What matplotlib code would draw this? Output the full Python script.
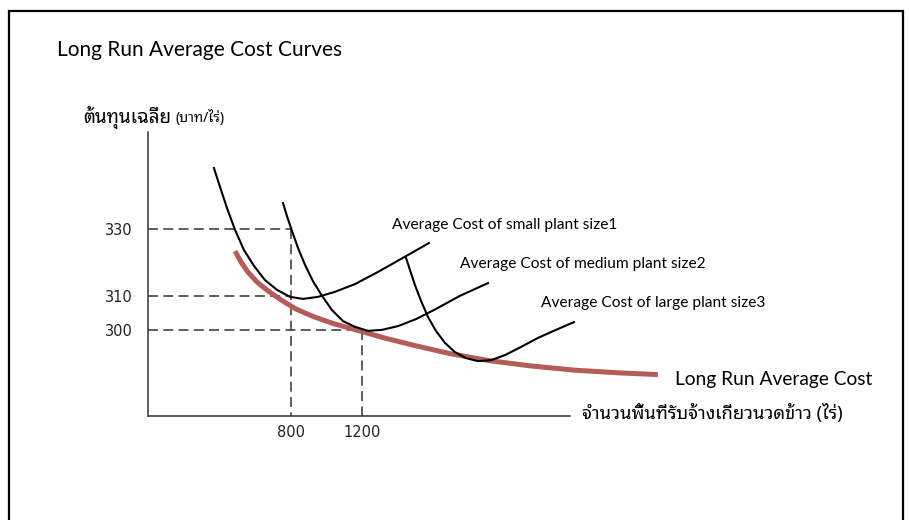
import matplotlib.pyplot as plt
from matplotlib import font_manager
from matplotlib.ft2font import FT2Font
from matplotlib.patches import Rectangle

# ---- data (x = area in rai, y = cost in baht/rai) ----
sac1_x = [371, 405, 444, 489, 539, 595, 656, 723, 796, 869, 952, 1047, 1159, 1287, 1427, 1572]
sac1_y = [348.1, 342.5, 336.2, 329.7, 323.7, 319.0, 314.8, 311.9, 309.8, 309.2, 309.8, 311.3,
          313.6, 317.2, 321.4, 325.8]

sac2_x = [757, 779, 807, 841, 880, 924, 975, 1030, 1092, 1159, 1232, 1310, 1399, 1500, 1611,
          1745, 1902]
sac2_y = [337.7, 333.8, 329.4, 324.3, 319.3, 314.5, 310.1, 305.9, 302.6, 300.9, 299.7, 300.0,
          301.1, 303.2, 306.2, 310.1, 313.9]

sac3_x = [1444, 1466, 1494, 1528, 1567, 1611, 1662, 1717, 1779, 1846, 1919, 1997, 2086, 2181,
          2282, 2382]
sac3_y = [321.4, 317.8, 313.3, 308.6, 303.8, 299.7, 296.1, 293.4, 291.6, 290.7, 291.0, 292.5,
          294.9, 297.6, 300.0, 302.3]

lrac_x = [489, 522, 561, 612, 673, 746, 829, 924, 1036, 1165, 1315, 1488, 1684, 1902, 2136,
          2388, 2639, 2851]
lrac_y = [323.4, 320.2, 317.2, 314.2, 311.6, 308.9, 306.2, 304.0, 301.9, 300.0, 297.7, 295.4,
          293.0, 290.9, 289.3, 288.0, 287.2, 286.7]

cost_ticks = [330, 310, 300]
cost_at = [800, 800, 1200]     # x where each dashed guide stops
area_ticks = [800, 1200]
area_cost = [330, 300]         # y where each vertical guide starts

labels = ['Average Cost of small plant size1',
          'Average Cost of medium plant size2',
          'Average Cost of large plant size3']


def has_thai(path):
    try:
        return 0x0E01 in FT2Font(path).get_charmap()
    except Exception:
        return False


found = sorted({f.name for f in font_manager.fontManager.ttflist if has_thai(f.fname)})
thai = 'DejaVu Sans'
for name in ['Noto Sans Thai Looped', 'Sarabun', 'IBM Plex Sans Thai Looped',
             'Noto Sans Thai'] + found:
    if name in found:
        thai = name
        break
latin = 'Lato'
thai_fam = [thai, 'DejaVu Sans']

W, H = 909, 520
fig = plt.figure(figsize=(W / 100, H / 100), dpi=100)


def px(x, y):
    return x / W, 1 - y / H


ax = fig.add_axes((147.5 / W, 1 - 415.7 / H, (570 - 147.5) / W, (415.7 - 132) / H))
ax.set_xlim(0, 2360)
ax.set_ylim(274.48, 358.81)
for s in ['top', 'right']:
    ax.spines[s].set_visible(False)
for s in ['left', 'bottom']:
    ax.spines[s].set_color('#333333')
    ax.spines[s].set_linewidth(1.1)

dash = dict(color='#333333', lw=1.1, linestyle=(0, (6.5, 3.5)))
for c, xe in zip(cost_ticks, cost_at):
    ax.plot([0, xe], [c, c], **dash)
for a, c in zip(area_ticks, area_cost):
    ax.plot([a, a], [c, 274.48], **dash)

ax.plot(lrac_x, lrac_y, color='#b35c58', lw=3.6, solid_capstyle='butt',
        solid_joinstyle='round', clip_on=False)
for xs, ys in [(sac1_x, sac1_y), (sac2_x, sac2_y), (sac3_x, sac3_y)]:
    ax.plot(xs, ys, color='black', lw=1.5, solid_joinstyle='round', clip_on=False)

ax.set_yticks(cost_ticks)
ax.set_yticklabels([str(v) for v in cost_ticks])
ax.set_xticks(area_ticks)
ax.set_xticklabels([str(v) for v in area_ticks])
ax.tick_params(length=0, labelsize=10.5, colors='#222222')
ax.tick_params(axis='y', pad=10.5)
ax.tick_params(axis='x', pad=7)

fig.text(*px(57, 50), 'Long Run Average Cost Curves', fontsize=15, family=latin, va='center')
fig.text(*px(392, 225), labels[0], fontsize=11.2, family=latin, va='center')
fig.text(*px(460, 264), labels[1], fontsize=11.2, family=latin, va='center')
fig.text(*px(541, 303), labels[2], fontsize=11.2, family=latin, va='center')
fig.text(*px(675, 380), 'Long Run Average Cost', fontsize=13.8, family=latin, va='center')

ylab = fig.text(*px(83, 117), 'ต้นทุนเฉลี่ย', fontsize=13.5, family=thai_fam,
                weight='bold', va='center')
ax.annotate('(บาท/ไร่)', xy=(1, 0.45), xycoords=ylab, xytext=(3, 0),
            textcoords='offset points', fontsize=10, family=thai_fam, va='center')
fig.text(*px(582, 413), 'จำนวนพื้นที่รับจ้างเกี่ยวนวดข้าว (ไร่)', fontsize=13.2,
         family=thai_fam, va='center')

fig.patches.append(Rectangle(px(9, 540), (903 - 9) / W, (540 - 11) / H,
                             transform=fig.transFigure, fill=False, lw=1.6,
                             edgecolor='black'))

fig.savefig('out.png', dpi=100)
